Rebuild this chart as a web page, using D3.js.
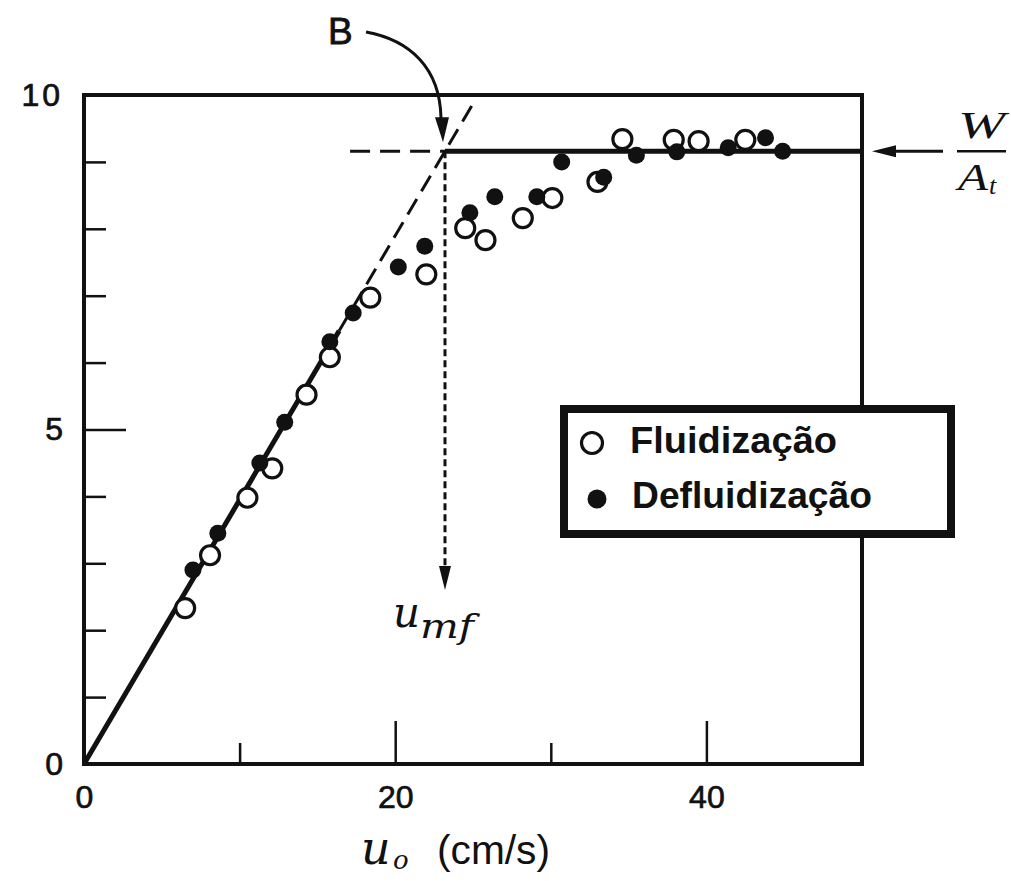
<!DOCTYPE html>
<html>
<head>
<meta charset="utf-8">
<script src="https://cdn.jsdelivr.net/npm/d3@7"></script>
<style>
  body { margin: 0; background: #fff; }
  svg { display: block; }
</style>
</head>
<body>
<svg id="chart" width="1011" height="881"></svg>
<script>
// Pressure drop across the bed (ordinate) against superficial gas velocity u0 (cm/s)
// Open markers: increasing flow (fluidization); filled markers: decreasing flow (defluidization)
const fluidU   = [6.5, 8.1, 10.5, 12.1, 14.3, 15.8, 18.4, 22.0, 24.5, 25.8, 28.2, 30.1, 33.0, 34.6, 37.9, 39.5, 42.5];
const fluidP   = [2.33, 3.12, 3.98, 4.42, 5.52, 6.08, 6.97, 7.32, 8.01, 7.83, 8.16, 8.46, 8.70, 9.34, 9.33, 9.31, 9.33];
const defluidU = [7.0, 8.6, 11.3, 12.9, 15.8, 17.3, 20.2, 21.9, 24.8, 26.4, 29.1, 30.7, 33.4, 35.5, 38.1, 41.4, 43.8, 44.9];
const defluidP = [2.90, 3.45, 4.50, 5.11, 6.31, 6.74, 7.43, 7.74, 8.24, 8.48, 8.48, 9.00, 8.77, 9.10, 9.15, 9.21, 9.36, 9.16];

// Axis ticks and labels
const xTickValues  = [10, 20, 30, 40];
const xMajorTicks  = [20, 40];
const xTickLabels  = [0, 20, 40];
const yTickValues  = [1, 2, 3, 4, 5, 6, 7, 8, 9];
const yMajorTicks  = [5];
const yTickLabels  = [0, 5, 10];

// Reference levels
const bedWeight = 9.16;      // W / A_t
const umf = 23.2;            // minimum fluidization velocity, point B
const packedEndU = 16.4;     // end of the solid packed-bed line
const packedTopP = 9.93;     // end of the extrapolated (dashed) packed-bed line
const plateauStartU = 17.1;  // start of the dashed W/A_t extension
const umfArrowP = 2.6;       // tip of the u_mf arrow

const svg = d3.select('#chart');
const x = d3.scaleLinear().domain([0, 50]).range([84, 862]);
const y = d3.scaleLinear().domain([0, 10]).range([764, 95]);
const slope = bedWeight / umf;
const ink = '#111';

const sans = "'Liberation Sans', Arial, Helvetica, sans-serif";
const mathFont = "'DejaVu Serif', 'Liberation Serif', serif";
const timesFont = "'Liberation Serif', 'Times New Roman', serif";

// Frame
svg.append('path')
  .attr('d', `M${x(0)},${y(10)}H${x(50)}V${y(0)}H${x(0)}Z`)
  .attr('fill', 'none').attr('stroke', ink).attr('stroke-width', 4)
  .attr('stroke-linejoin', 'miter');

// X ticks (inside)
const gx = svg.append('g').attr('transform', `translate(0,${y(0)})`)
  .call(d3.axisBottom(x).tickValues(xTickValues).tickSize(-21).tickFormat(''));
gx.select('.domain').remove();
gx.selectAll('.tick line')
  .attr('y2', d => xMajorTicks.includes(d) ? -43 : -21)
  .attr('stroke', ink).attr('stroke-width', 2.5);

const gxl = svg.append('g').attr('transform', `translate(0,${y(0)})`)
  .call(d3.axisBottom(x).tickValues(xTickLabels).tickSize(0).tickPadding(21).tickFormat(d3.format('d')));
gxl.select('.domain').remove();
gxl.selectAll('text').attr('font-family', sans).attr('font-size', 32)
  .attr('fill', ink).attr('stroke', ink).attr('stroke-width', 0.7);

// Y ticks (inside)
const gy = svg.append('g').attr('transform', `translate(${x(0)},0)`)
  .call(d3.axisLeft(y).tickValues(yTickValues).tickSize(-22).tickFormat(''));
gy.select('.domain').remove();
gy.selectAll('.tick line')
  .attr('x2', d => yMajorTicks.includes(d) ? 42 : 22)
  .attr('stroke', ink).attr('stroke-width', 2.5);

const gyl = svg.append('g').attr('transform', `translate(${x(0)},0)`)
  .call(d3.axisLeft(y).tickValues(yTickLabels).tickSize(0).tickPadding(21).tickFormat(d3.format('d')));
gyl.select('.domain').remove();
gyl.selectAll('text').attr('font-family', sans).attr('font-size', 32)
  .attr('fill', ink).attr('stroke', ink).attr('stroke-width', 0.7)
  .attr('letter-spacing', d => d === 10 ? 3 : 0);

// Packed-bed line: solid part, then dashed extrapolation through B
const line = d3.line().x(d => x(d[0])).y(d => y(d[1]));
svg.append('path')
  .attr('d', line([[0, 0], [packedEndU, slope * packedEndU]]))
  .attr('stroke', ink).attr('stroke-width', 5).attr('fill', 'none');
svg.append('path')
  .attr('d', line([[packedEndU, slope * packedEndU], [packedTopP / slope, packedTopP]]))
  .attr('stroke', ink).attr('stroke-width', 3).attr('fill', 'none')
  .attr('stroke-dasharray', '18 9');

// W/A_t level: dashed before B, solid after
svg.append('path')
  .attr('d', line([[plateauStartU, bedWeight], [umf, bedWeight]]))
  .attr('stroke', ink).attr('stroke-width', 3).attr('fill', 'none')
  .attr('stroke-dasharray', '20 10');
svg.append('path')
  .attr('d', line([[umf, bedWeight], [50, bedWeight]]))
  .attr('stroke', ink).attr('stroke-width', 5).attr('fill', 'none');

// u_mf drop line with arrowhead
svg.append('path')
  .attr('d', line([[umf, bedWeight], [umf, umfArrowP + 0.3]]))
  .attr('stroke', ink).attr('stroke-width', 3).attr('fill', 'none')
  .attr('stroke-dasharray', '7 4');
const ax = x(umf), ay = y(umfArrowP);
svg.append('path')
  .attr('d', `M${ax},${ay}L${ax - 6},${ay - 24}L${ax + 6},${ay - 24}Z`)
  .attr('fill', ink);

// Data markers
const fluid = fluidU.map((u, i) => [u, fluidP[i]]);
const defluid = defluidU.map((u, i) => [u, defluidP[i]]);
svg.append('g').selectAll('circle').data(fluid).join('circle')
  .attr('cx', d => x(d[0])).attr('cy', d => y(d[1])).attr('r', 9.5)
  .attr('fill', '#fff').attr('stroke', ink).attr('stroke-width', 3.2);
svg.append('g').selectAll('circle').data(defluid).join('circle')
  .attr('cx', d => x(d[0])).attr('cy', d => y(d[1])).attr('r', 8.5)
  .attr('fill', ink);

// B label with curved arrow
svg.append('text').attr('x', 328).attr('y', 44)
  .attr('font-family', sans).attr('font-size', 37)
  .attr('fill', ink).attr('stroke', ink).attr('stroke-width', 0.8).text('B');
svg.append('path')
  .attr('d', `M366,32C410,40 440,68 441,118`)
  .attr('stroke', ink).attr('stroke-width', 3).attr('fill', 'none');
svg.append('path')
  .attr('d', `M${x(umf) - 2},${y(bedWeight) - 9}L${x(umf) - 10},${y(bedWeight) - 34}L${x(umf) + 4},${y(bedWeight) - 34}Z`)
  .attr('fill', ink);

// W / A_t label with arrow
const wy = y(bedWeight);
svg.append('path').attr('d', `M943,${wy}H890`).attr('stroke', ink).attr('stroke-width', 3);
svg.append('path').attr('d', `M872,${wy}L896,${wy - 6}L896,${wy + 6}Z`).attr('fill', ink);
svg.append('text').attr('x', 958).attr('y', wy - 13)
  .attr('textLength', 47).attr('lengthAdjust', 'spacingAndGlyphs')
  .attr('font-family', timesFont).attr('font-style', 'italic').attr('font-size', 38).attr('fill', ink).text('W');
svg.append('path').attr('d', `M957,${wy}H1006`).attr('stroke', ink).attr('stroke-width', 2.5);
svg.append('text').attr('x', 958).attr('y', wy + 39)
  .attr('textLength', 30).attr('lengthAdjust', 'spacingAndGlyphs')
  .attr('font-family', timesFont).attr('font-style', 'italic').attr('font-size', 38).attr('fill', ink).text('A');
svg.append('text').attr('x', 989).attr('y', wy + 43)
  .attr('font-family', timesFont).attr('font-style', 'italic').attr('font-size', 26).attr('fill', ink).text('t');

// u_mf label
svg.append('text').attr('x', 393).attr('y', 627)
  .attr('font-family', mathFont).attr('font-style', 'italic').attr('font-size', 42).attr('fill', ink).text('u');
svg.append('text').attr('x', 420).attr('y', 638)
  .attr('textLength', 54).attr('lengthAdjust', 'spacingAndGlyphs')
  .attr('font-family', mathFont).attr('font-style', 'italic').attr('font-size', 34).attr('fill', ink).text('mf');

// X-axis title
svg.append('text').attr('x', 361).attr('y', 864)
  .attr('font-family', mathFont).attr('font-style', 'italic').attr('font-size', 46).attr('fill', ink).text('u');
svg.append('text').attr('x', 393).attr('y', 869)
  .attr('font-family', mathFont).attr('font-style', 'italic').attr('font-size', 26).attr('fill', ink).text('o');
svg.append('text').attr('x', 437).attr('y', 864)
  .attr('textLength', 113).attr('lengthAdjust', 'spacingAndGlyphs')
  .attr('font-family', sans).attr('font-size', 40).attr('fill', ink).text('(cm/s)');

// Legend
const lg = svg.append('g');
lg.append('rect').attr('x', 564).attr('y', 409).attr('width', 387).attr('height', 125)
  .attr('fill', '#fff').attr('stroke', ink).attr('stroke-width', 8);
lg.append('circle').attr('cx', 592).attr('cy', 443).attr('r', 10.5)
  .attr('fill', '#fff').attr('stroke', ink).attr('stroke-width', 3.2);
lg.append('circle').attr('cx', 597).attr('cy', 499).attr('r', 9.5).attr('fill', ink);
lg.append('text').attr('x', 630).attr('y', 453).attr('textLength', 207).attr('lengthAdjust', 'spacingAndGlyphs')
  .attr('font-family', sans).attr('font-weight', 'bold').attr('font-size', 37).attr('fill', ink).text('Fluidização');
lg.append('text').attr('x', 632).attr('y', 508).attr('textLength', 240).attr('lengthAdjust', 'spacingAndGlyphs')
  .attr('font-family', sans).attr('font-weight', 'bold').attr('font-size', 37).attr('fill', ink).text('Defluidização');
</script>
</body>
</html>
